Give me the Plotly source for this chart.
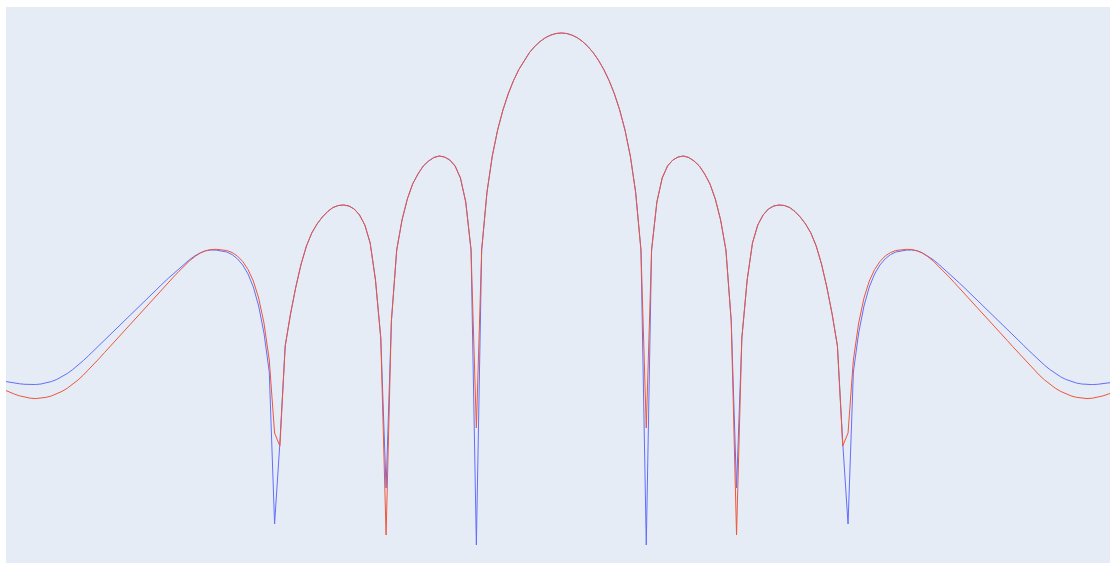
import numpy as np
import plotly.graph_objects as go

# Scan angle grid (degrees), 211 samples across the half-space
theta = np.linspace(-90, 90, 211)

# Normalised pattern levels (dB), configuration A
pattern_a_left = [
    -34.82, -34.92, -35.01, -35.08, -35.13, -35.16, -35.15, -35.10, -35.00, -34.85,
    -34.64, -34.37, -34.04, -33.65, -33.22, -32.75, -32.25, -31.73, -31.20, -30.67,
    -30.14, -29.61, -29.08, -28.56, -28.04, -27.53, -27.03, -26.53, -26.03, -25.52,
    -25.02, -24.52, -24.03, -23.55, -23.09, -22.66, -22.28, -21.98, -21.78, -21.70,
    -21.71, -21.77, -21.90, -22.16, -22.58, -23.20, -24.10, -25.40, -27.30, -30.00,
    -33.90, -49.10, -41.00, -31.30, -28.10, -25.40, -23.10, -21.30, -20.00, -19.10,
    -18.40, -17.85, -17.45, -17.25, -17.20, -17.30, -17.60, -18.20, -19.20, -21.00,
    -24.70, -30.50, -45.50, -28.80, -21.70, -18.70, -16.60, -15.10, -14.10, -13.30,
    -12.80, -12.45, -12.30, -12.40, -12.70, -13.30, -14.50, -16.90, -21.70, -51.20,
    -21.70, -15.93, -12.31, -9.72, -7.71, -6.09, -4.76, -3.65, -2.73, -1.96,
    -1.34, -0.85, -0.47, -0.21, -0.05,
]
pattern_a_peak = [0.00]
pattern_a_right = [
    -0.05, -0.21, -0.47, -0.85, -1.34,
    -1.96, -2.73, -3.65, -4.76, -6.09, -7.71, -9.72, -12.31, -15.93, -21.70,
    -51.20, -21.70, -16.90, -14.50, -13.30, -12.70, -12.40, -12.30, -12.45, -12.80,
    -13.30, -14.10, -15.10, -16.60, -18.70, -21.70, -28.80, -45.50, -30.50, -24.70,
    -21.00, -19.20, -18.20, -17.60, -17.30, -17.20, -17.25, -17.45, -17.85, -18.40,
    -19.10, -20.00, -21.30, -23.10, -25.40, -28.10, -31.30, -41.00, -49.10, -33.90,
    -30.00, -27.30, -25.40, -24.10, -23.20, -22.58, -22.16, -21.90, -21.77, -21.71,
    -21.70, -21.78, -21.98, -22.28, -22.66, -23.09, -23.55, -24.03, -24.52, -25.02,
    -25.52, -26.03, -26.53, -27.03, -27.53, -28.04, -28.56, -29.08, -29.61, -30.14,
    -30.67, -31.20, -31.73, -32.25, -32.75, -33.22, -33.65, -34.04, -34.37, -34.64,
    -34.85, -35.00, -35.10, -35.15, -35.16, -35.13, -35.08, -35.01, -34.92, -34.82,
]

# Normalised pattern levels (dB), configuration B
pattern_b_left = [
    -35.66, -35.90, -36.11, -36.29, -36.43, -36.52, -36.56, -36.52, -36.43, -36.29,
    -36.09, -35.83, -35.51, -35.13, -34.69, -34.20, -33.67, -33.11, -32.53, -31.94,
    -31.35, -30.76, -30.17, -29.58, -28.99, -28.40, -27.82, -27.24, -26.66, -26.09,
    -25.52, -24.95, -24.38, -23.82, -23.28, -22.78, -22.35, -22.01, -21.78, -21.66,
    -21.63, -21.66, -21.75, -21.95, -22.30, -22.85, -23.65, -24.80, -26.50, -29.00,
    -32.70, -40.00, -41.30, -31.30, -28.10, -25.40, -23.10, -21.30, -20.00, -19.10,
    -18.40, -17.85, -17.45, -17.25, -17.20, -17.30, -17.60, -18.20, -19.20, -21.00,
    -24.70, -30.50, -50.20, -28.80, -21.70, -18.70, -16.60, -15.10, -14.10, -13.30,
    -12.80, -12.45, -12.30, -12.40, -12.70, -13.30, -14.50, -16.90, -21.70, -39.50,
    -21.70, -15.93, -12.31, -9.72, -7.71, -6.09, -4.76, -3.65, -2.73, -1.96,
    -1.34, -0.85, -0.47, -0.21, -0.05,
]
pattern_b_peak = [0.00]
pattern_b_right = [
    -0.05, -0.21, -0.47, -0.85, -1.34,
    -1.96, -2.73, -3.65, -4.76, -6.09, -7.71, -9.72, -12.31, -15.93, -21.70,
    -39.50, -21.70, -16.90, -14.50, -13.30, -12.70, -12.40, -12.30, -12.45, -12.80,
    -13.30, -14.10, -15.10, -16.60, -18.70, -21.70, -28.80, -50.20, -30.50, -24.70,
    -21.00, -19.20, -18.20, -17.60, -17.30, -17.20, -17.25, -17.45, -17.85, -18.40,
    -19.10, -20.00, -21.30, -23.10, -25.40, -28.10, -31.30, -41.30, -40.00, -32.70,
    -29.00, -26.50, -24.80, -23.65, -22.85, -22.30, -21.95, -21.75, -21.66, -21.63,
    -21.66, -21.78, -22.01, -22.35, -22.78, -23.28, -23.82, -24.38, -24.95, -25.52,
    -26.09, -26.66, -27.24, -27.82, -28.40, -28.99, -29.58, -30.17, -30.76, -31.35,
    -31.94, -32.53, -33.11, -33.67, -34.20, -34.69, -35.13, -35.51, -35.83, -36.09,
    -36.29, -36.43, -36.52, -36.56, -36.52, -36.43, -36.29, -36.11, -35.90, -35.66,
]

pattern_a = pattern_a_left + pattern_a_peak + pattern_a_right
pattern_b = pattern_b_left + pattern_b_peak + pattern_b_right

fig = go.Figure()
fig.add_trace(go.Scatter(x=theta, y=pattern_a, mode="lines",
                         line=dict(color="#636EFA", width=1), name="A"))
fig.add_trace(go.Scatter(x=theta, y=pattern_b, mode="lines",
                         line=dict(color="#EF553B", width=1), name="B"))

fig.update_layout(
    template="plotly",
    showlegend=False,
    margin=dict(l=6, r=0, t=7, b=0),
    plot_bgcolor="#E5ECF6",
    paper_bgcolor="white",
    xaxis=dict(range=[-89.64, 88.57], visible=False, showgrid=False, zeroline=False),
    yaxis=dict(range=[-53.0, 2.6], visible=False, showgrid=False, zeroline=False),
)

fig.write_html("out.html")
